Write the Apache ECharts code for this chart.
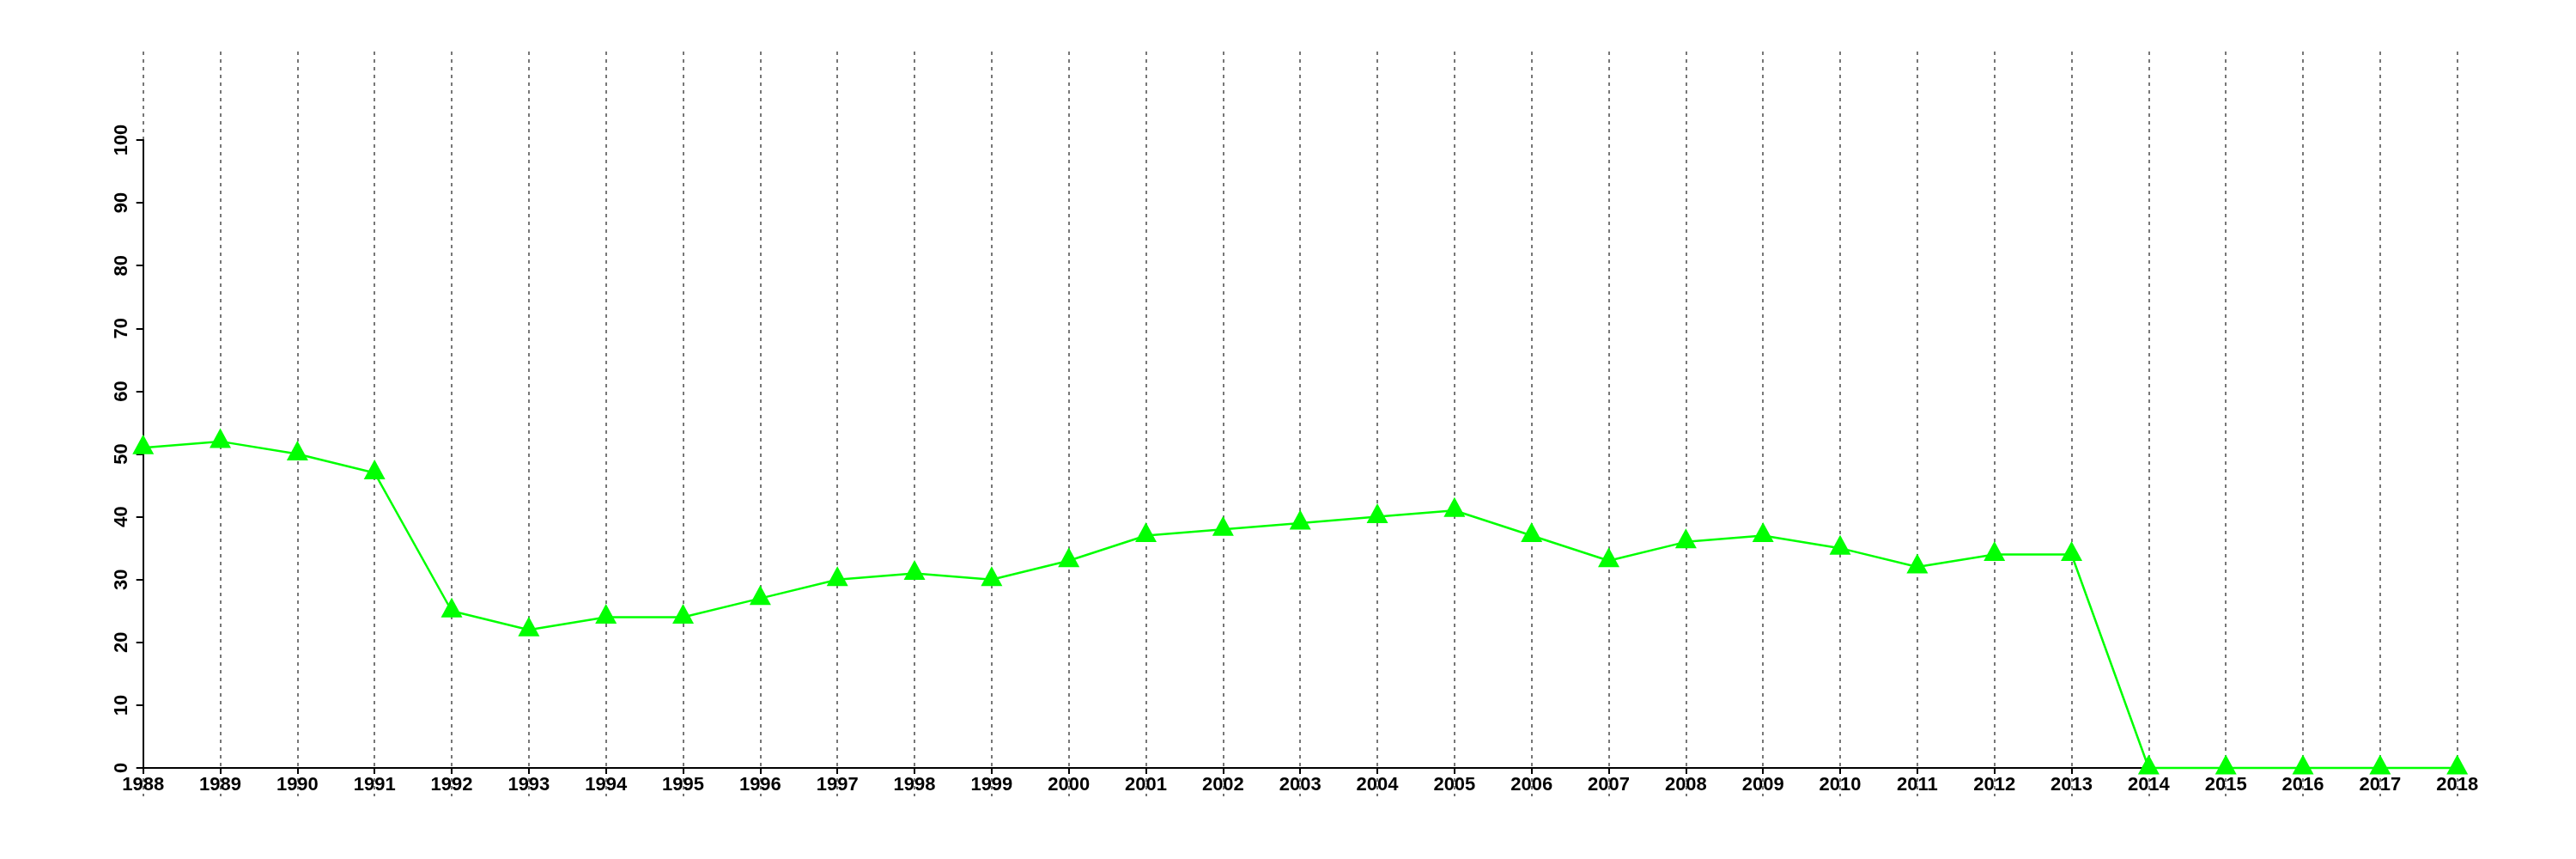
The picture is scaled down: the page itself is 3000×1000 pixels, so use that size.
<!DOCTYPE html>
<html>
<head>
<meta charset="utf-8">
<script src="https://cdn.jsdelivr.net/npm/echarts@6/dist/echarts.min.js"></script>
<style>html,body{margin:0;padding:0;background:#fff;}#c{width:3000px;height:1000px;}</style>
</head>
<body>
<div id="c"></div>
<script>
var years = ['1988','1989','1990','1991','1992','1993','1994','1995','1996','1997','1998','1999','2000','2001','2002','2003','2004','2005','2006','2007','2008','2009','2010','2011','2012','2013','2014','2015','2016','2017','2018'];
var values = [51,52,50,47,25,22,24,24,27,30,31,30,33,37,38,39,40,41,37,33,36,37,35,32,34,34,0,0,0,0,0];
var yMin = 0, yMax = 100, yStep = 10;

var chart = echarts.init(document.getElementById('c'));
var font = {fontFamily: 'Liberation Sans', fontWeight: 'bold', fontSize: 22, color: '#000'};
chart.setOption({
  animation: false,
  backgroundColor: '#fff',
  grid: [
    {left: 166.7, right: 138.3, top: 163, bottom: 106, containLabel: false},
    {left: 166.7, right: 138.3, top: 60, bottom: 73, containLabel: false}
  ],
  xAxis: [
    {
      type: 'category', data: years, boundaryGap: false, gridIndex: 0, z: 3,
      axisLine: {show: true, onZero: false, lineStyle: {color: '#000', width: 2}},
      axisTick: {show: true, alignWithLabel: true, inside: false, length: 7, lineStyle: {color: '#000', width: 2}},
      axisLabel: Object.assign({margin: 9, interval: 0}, font),
      splitLine: {show: false}
    },
    {
      type: 'category', data: years, boundaryGap: false, gridIndex: 1, z: 0,
      axisLine: {show: false}, axisTick: {show: false}, axisLabel: {show: false},
      splitLine: {show: true, interval: 0, lineStyle: {color: '#777', width: 2, type: [4, 5]}}
    }
  ],
  yAxis: [
    {
      type: 'value', min: yMin, max: yMax, interval: yStep, gridIndex: 0, z: 3,
      axisLine: {show: true, lineStyle: {color: '#000', width: 2}},
      axisTick: {show: true, length: 8, lineStyle: {color: '#000', width: 2}},
      axisLabel: Object.assign({margin: 14, rotate: 90}, font),
      splitLine: {show: false}
    },
    {
      type: 'value', min: 0, max: 1, gridIndex: 1, show: false, splitLine: {show: false}
    }
  ],
  series: [{
    type: 'line', data: values, xAxisIndex: 0, yAxisIndex: 0, z: 5,
    symbol: 'triangle', symbolSize: [25, 23], symbolOffset: [0, -4],
    showAllSymbol: true, clip: false,
    lineStyle: {color: '#00FF00', width: 2.5},
    itemStyle: {color: '#00FF00', borderWidth: 0}
  }]
});
</script>
</body>
</html>
